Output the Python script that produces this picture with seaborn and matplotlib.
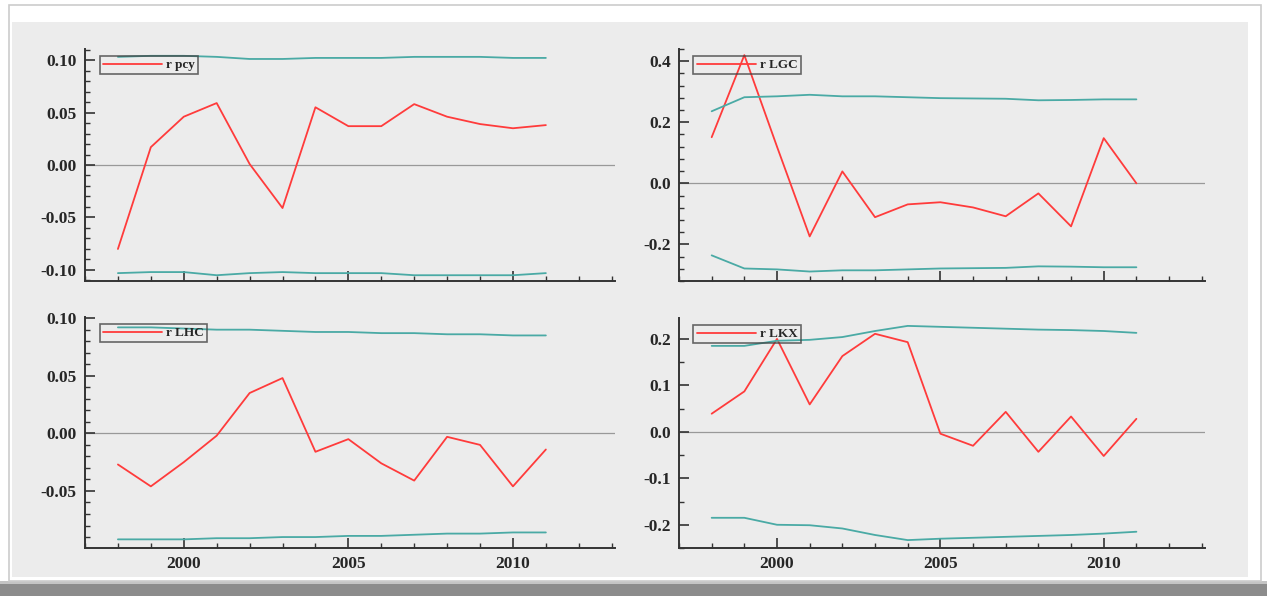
import numpy as np
import pandas as pd
import matplotlib
matplotlib.use("Agg")
import matplotlib.pyplot as plt
from matplotlib.ticker import MultipleLocator, AutoMinorLocator, FormatStrFormatter
from matplotlib.patches import Rectangle
import seaborn as sns

years = list(range(1998, 2012))

# r pcy
pcy = [-0.080, 0.017, 0.046, 0.059, 0.001, -0.041, 0.055, 0.037, 0.037, 0.058, 0.046, 0.039, 0.035, 0.038]
pcy_up = [0.103, 0.104, 0.104, 0.103, 0.101, 0.101, 0.102, 0.102, 0.102, 0.103, 0.103, 0.103, 0.102, 0.102]
pcy_lo = [-0.103, -0.102, -0.102, -0.105, -0.103, -0.102, -0.103, -0.103, -0.103, -0.105, -0.105, -0.105, -0.105, -0.103]

# r LGC
lgc = [0.151, 0.42, 0.12, -0.174, 0.039, -0.111, -0.069, -0.062, -0.079, -0.108, -0.033, -0.141, 0.148, 0.0]
lgc_up = [0.236, 0.282, 0.285, 0.290, 0.285, 0.285, 0.282, 0.279, 0.278, 0.277, 0.272, 0.273, 0.275, 0.275]
lgc_lo = [-0.236, -0.279, -0.282, -0.289, -0.285, -0.285, -0.282, -0.279, -0.278, -0.277, -0.272, -0.273, -0.275, -0.275]

# r LHC
lhc = [-0.027, -0.046, -0.025, -0.002, 0.035, 0.048, -0.016, -0.005, -0.026, -0.041, -0.003, -0.010, -0.046, -0.014]
lhc_up = [0.092, 0.092, 0.091, 0.090, 0.090, 0.089, 0.088, 0.088, 0.087, 0.087, 0.086, 0.086, 0.085, 0.085]
lhc_lo = [-0.092, -0.092, -0.092, -0.091, -0.091, -0.090, -0.090, -0.089, -0.089, -0.088, -0.087, -0.087, -0.086, -0.086]

# r LKX
lkx = [0.039, 0.087, 0.200, 0.059, 0.163, 0.211, 0.193, -0.004, -0.030, 0.043, -0.043, 0.033, -0.052, 0.028]
lkx_up = [0.185, 0.185, 0.196, 0.198, 0.204, 0.217, 0.228, 0.226, 0.224, 0.222, 0.220, 0.219, 0.217, 0.213]
lkx_lo = [-0.185, -0.185, -0.200, -0.201, -0.208, -0.222, -0.233, -0.230, -0.228, -0.226, -0.224, -0.222, -0.219, -0.215]

panels = [
    ("r pcy", pcy, pcy_up, pcy_lo, (-0.1105, 0.1105), 0.05, 5),
    ("r LGC", lgc, lgc_up, lgc_lo, (-0.32, 0.44), 0.2, 5),
    ("r LHC", lhc, lhc_up, lhc_lo, (-0.0995, 0.101), 0.05, 5),
    ("r LKX", lkx, lkx_up, lkx_lo, (-0.25, 0.245), 0.1, 2),
]

W, H = 1267, 596
boxes = [(85, 49, 615, 281), (679, 49, 1205, 281), (85, 317, 615, 548), (679, 318, 1205, 548)]

sns.set_style("white")
plt.rcParams['font.family'] = ['Liberation Serif', 'DejaVu Serif']

fig = plt.figure(figsize=(W / 100, H / 100), dpi=100)
fig.patch.set_facecolor("white")
# outer frame / shadow
fig.patches.append(Rectangle((0, 0), 1, 12 / H, transform=fig.transFigure,
                             facecolor="#8c8c8c", edgecolor="none", zorder=-4))
fig.patches.append(Rectangle((0, 12 / H), 1, 3 / H, transform=fig.transFigure,
                             facecolor="#c4c4c4", edgecolor="none", zorder=-4))
fig.patches.append(Rectangle((9 / W, 15 / H), 1252 / W, 576 / H, transform=fig.transFigure,
                             facecolor="white", edgecolor="#cccccc", lw=1.2, zorder=-3))
fig.patches.append(Rectangle((12 / W, 19 / H), 1236 / W, 555 / H, transform=fig.transFigure,
                             facecolor="#ececec", edgecolor="none", zorder=-1))

red = "#ff3b3b"
teal = "#4aaaa5"

for (name, vals, up, lo, ylim, major, nminor), (x0, y0, x1, y1) in zip(panels, boxes):
    ax = fig.add_axes([x0 / W, 1 - y1 / H, (x1 - x0) / W, (y1 - y0) / H])
    ax.set_facecolor("none")
    df = pd.DataFrame({"year": years, name: vals, "up": up, "lo": lo})
    sns.lineplot(data=df, x="year", y=name, ax=ax, color=red, lw=1.3, label=name)
    sns.lineplot(data=df, x="year", y="up", ax=ax, color=teal, lw=1.3)
    sns.lineplot(data=df, x="year", y="lo", ax=ax, color=teal, lw=1.3)
    ax.axhline(0, color="#999999", lw=0.9, zorder=0)
    ax.set_xlim(1997, 2013.1)
    ax.set_ylim(*ylim)
    ax.set_xlabel("")
    ax.set_ylabel("")
    ax.xaxis.set_major_locator(MultipleLocator(5))
    ax.xaxis.set_minor_locator(MultipleLocator(1))
    ax.yaxis.set_major_locator(MultipleLocator(major))
    ax.yaxis.set_minor_locator(AutoMinorLocator(nminor))
    ax.yaxis.set_major_formatter(FormatStrFormatter("%.2f" if major < 0.1 else "%.1f"))
    for s in ["top", "right"]:
        ax.spines[s].set_visible(False)
    for s in ["left", "bottom"]:
        ax.spines[s].set_color("#333333")
        ax.spines[s].set_linewidth(1.4)
    ax.tick_params(which="major", direction="in", length=7, width=1.2, color="#333333",
                   labelsize=12.5, pad=6, left=True, bottom=True)
    ax.tick_params(which="minor", direction="in", length=3.5, width=1.0, color="#333333",
                   left=True, bottom=True)
    for lab in ax.get_xticklabels() + ax.get_yticklabels():
        lab.set_fontweight("bold")
    if y0 < 100:
        ax.tick_params(axis="x", labelbottom=False)
    leg = ax.legend(loc="upper left", bbox_to_anchor=(0.015, 1.0), frameon=True, fancybox=False,
                    handlelength=4.5, borderpad=0.25, handletextpad=0.3,
                    prop={"size": 9.5, "weight": "bold"})
    leg.get_frame().set_edgecolor("#444444")
    leg.get_frame().set_facecolor("none")
    leg.get_frame().set_linewidth(1.2)

fig.savefig("out.png", dpi=100)
